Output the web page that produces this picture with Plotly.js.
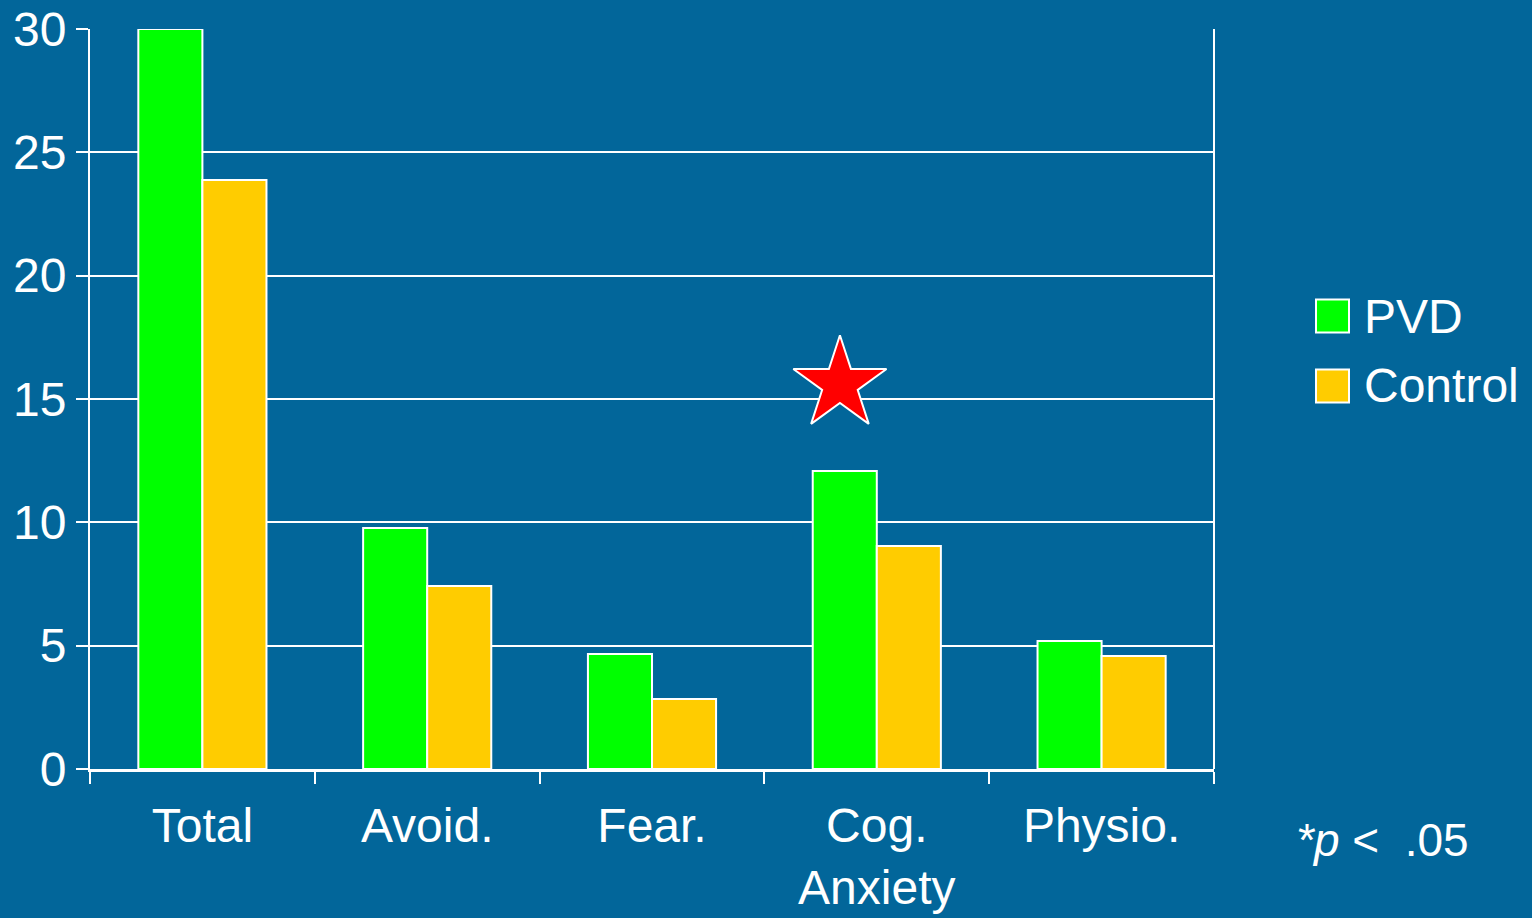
<!DOCTYPE html>
<html>
<head>
<meta charset="utf-8">
<script src="https://cdn.plot.ly/plotly-3.0.1.min.js"></script>
<style>html,body{margin:0;padding:0;background:#02669a;}#chart{width:1532px;height:918px;}</style>
</head>
<body>
<div id="chart"></div>
<script>
const categories = ["Total", "Avoid.", "Fear.", "Cog.<br>Anxiety", "Physio."];
const seriesNames = ["PVD", "Control"];
const pvdValues = [30.0, 9.77, 4.66, 12.08, 5.19];
const controlValues = [23.88, 7.42, 2.84, 9.04, 4.58];
const yTickVals = [0, 5, 10, 15, 20, 25, 30];
const starX = [2.836];
const starY = [15.6];
const noteText = "<i>*p</i> <  .05";

const BG = "#02669a";
const GREEN = "#00ff00";
const GOLD = "#ffcc00";
const FONT = "Liberation Sans, Arial, sans-serif";

const traces = [
  {type: "bar", name: seriesNames[0], x: categories, y: pvdValues,
   marker: {color: GREEN, line: {color: "#ffffff", width: 2}}, showlegend: false, hoverinfo: "y"},
  {type: "bar", name: seriesNames[1], x: categories, y: controlValues,
   marker: {color: GOLD, line: {color: "#ffffff", width: 2}}, showlegend: false, hoverinfo: "y"},
  {type: "scatter", mode: "markers", x: starX, y: starY, xaxis: "x2", yaxis: "y",
   marker: {symbol: "star", size: 70, color: "#ff0000", line: {color: "#ffffff", width: 2}},
   showlegend: false, hoverinfo: "skip"}
];

const legendColors = [GREEN, GOLD];
const legendY = [316, 386];
const shapes = [];
const annotations = [];
legendColors.forEach((c, i) => {
  shapes.push({type: "rect", xref: "paper", yref: "paper",
    x0: (1316 - 90) / 1124, x1: (1349 - 90) / 1124,
    y0: (769 - (legendY[i] - 16.5)) / 740, y1: (769 - (legendY[i] + 16.5)) / 740,
    fillcolor: c, line: {color: "#ffffff", width: 2}});
  annotations.push({xref: "paper", yref: "paper", x: (1362 - 90) / 1124, y: (769 - legendY[i]) / 740,
    xanchor: "left", yanchor: "middle", showarrow: false, text: seriesNames[i],
    font: {family: FONT, size: 48, color: "#ffffff"}});
});
annotations.push({xref: "paper", yref: "paper", x: (1294 - 90) / 1124, y: (769 - 840) / 740,
  xanchor: "left", yanchor: "middle", showarrow: false, text: noteText,
  font: {family: FONT, size: 46, color: "#ffffff"}});
// right border line
shapes.push({type: "line", xref: "paper", yref: "paper", x0: 1, x1: 1, y0: 0, y1: 1,
  line: {color: "#ffffff", width: 2}});

const layout = {
  width: 1532, height: 918,
  paper_bgcolor: BG, plot_bgcolor: BG,
  margin: {l: 90, r: 318, t: 29, b: 149},
  barmode: "group", bargap: 0.43, bargroupgap: 0,
  font: {family: FONT, size: 48, color: "#ffffff"},
  xaxis: {type: "category", showline: true, linecolor: "#ffffff", linewidth: 3,
    ticks: "outside", ticklen: 12, tickwidth: 2, tickcolor: "#ffffff",
    tickson: "boundaries", showgrid: false, ticklabelstandoff: 12,
    tickfont: {family: FONT, size: 48, color: "#ffffff"}},
  xaxis2: {type: "linear", range: [-0.5, 4.5], overlaying: "x", visible: false},
  yaxis: {range: [0, 30], tickvals: yTickVals, showline: true, linecolor: "#ffffff", linewidth: 2,
    ticks: "outside", ticklen: 12, tickwidth: 2, tickcolor: "#ffffff",
    showgrid: true, gridcolor: "#ffffff", gridwidth: 2, zeroline: false,
    tickfont: {family: FONT, size: 48, color: "#ffffff"}},
  shapes: shapes,
  annotations: annotations
};

Plotly.newPlot("chart", traces, layout, {displayModeBar: false, staticPlot: true});
</script>
</body>
</html>
